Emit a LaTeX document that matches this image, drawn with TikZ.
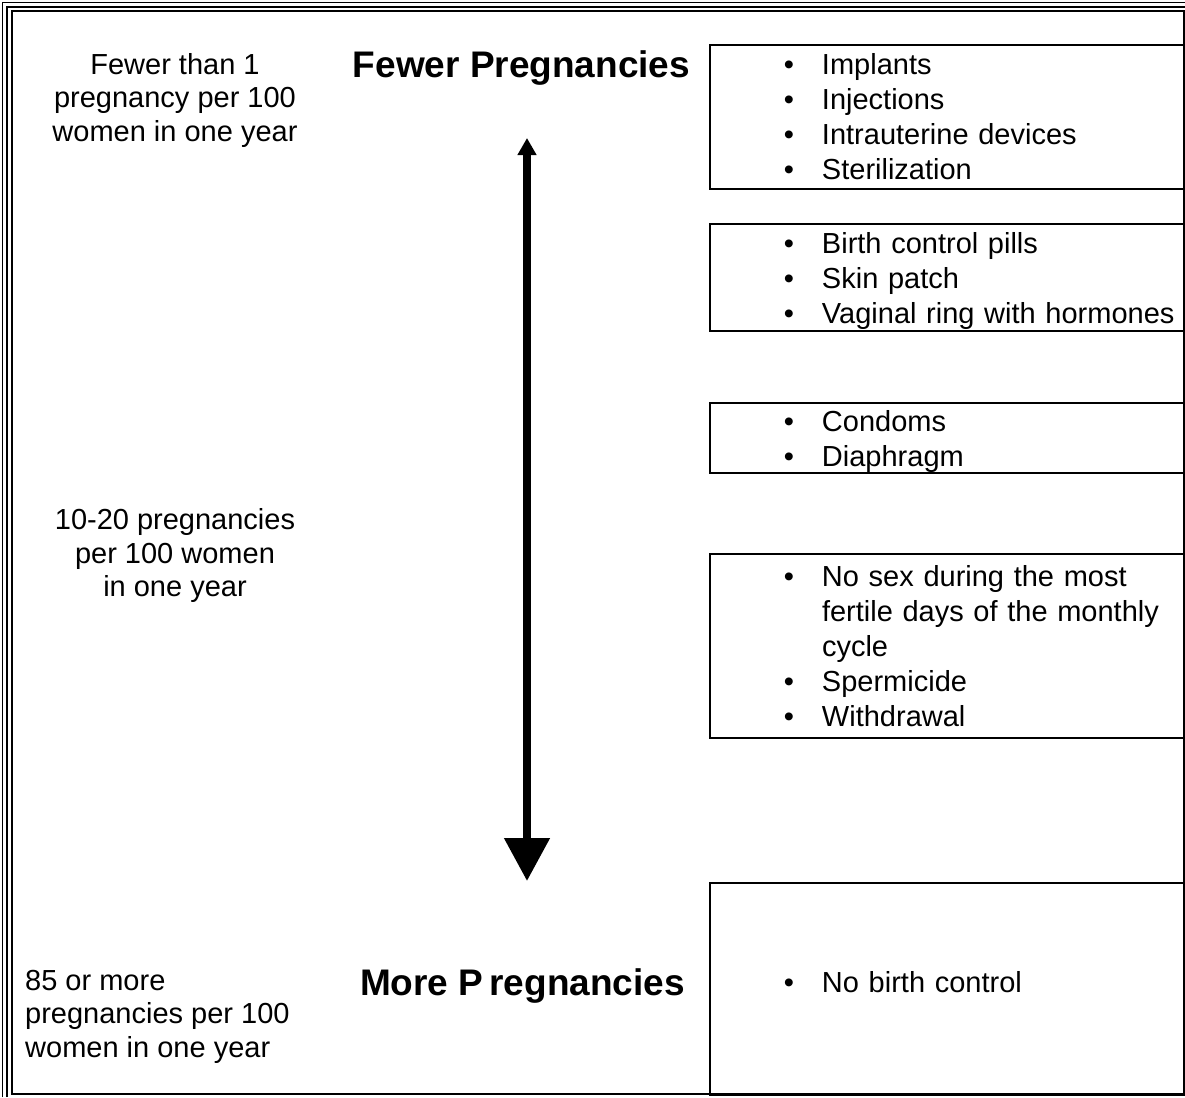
\documentclass[tikz,border=0pt]{standalone}
\usepackage{fontspec}
\setmainfont{Liberation Sans}
\usetikzlibrary{arrows.meta}
\newcommand{\bitem}[1]{\hspace*{72pt}\makebox[14pt]{\textbullet}\hspace*{26pt}#1}
\newcommand{\bcont}[1]{\hspace*{112pt}#1}
\tikzset{
  listbox/.style={draw,line width=2pt,anchor=north west,inner sep=0pt,
    minimum width=475pt,text width=475pt,align=left,
    font=\fontsize{29}{35}\selectfont},
  ratetext/.style={inner sep=0pt,align=center,font=\fontsize{29}{33.5}\selectfont},
  headtext/.style={inner sep=0pt,anchor=base,font=\fontsize{37}{44}\selectfont\bfseries}
}
\begin{document}
\begin{tikzpicture}[x=1pt,y=-1pt]
%\draw[gray,very thin] (0,0) grid[step=100] (1185,1097);
\useasboundingbox (0,0) rectangle (1185,1097);
% page border
\draw[line width=1.2pt] (2.5,1097) -- (2.5,2.5) -- (1185,2.5);
\draw[line width=1.2pt] (7,1097) -- (7,7) -- (1185,7);
\draw[line width=1.5pt] (12,11) rectangle (1184,1094);
% rates on the left
\node[ratetext] (lowrate) at (175,100.5) {Fewer than 1\\pregnancy per 100\\women in one year};
\node[ratetext] (midrate) at (175,555.5) {10-20 pregnancies\\per 100 women\\in one year};
\node[ratetext,align=left,anchor=west] (highrate) at (25,1016.5) {85 or more\\pregnancies per 100\\women in one year};
% headings and arrow
\node[headtext] (fewer) at (521.5,78) {Fewer Pregnancies};
\node[headtext] (more) at (522.5,995) {More P\kern6pt regnancies};
\coordinate (fewtip) at (527,138);
\coordinate (moretip) at (527,881);
\draw[line width=8pt,{Triangle[width=18pt,length=17pt]}-{Triangle[width=44pt,length=43pt]}] (fewtip) -- (moretip);
% methods
\node[listbox,minimum height=144pt] (box1) at (709,44)
  {\bitem{Implants}\\\bitem{Injections}\\\bitem{Intrauterine devices}\\\bitem{Sterilization}};
\node[listbox,minimum height=107pt,text depth=70pt] (box2) at (709,223)
  {\bitem{Birth control pills}\\\bitem{Skin patch}\\\bitem{Vaginal ring with hormones}};
\node[listbox,minimum height=70pt,text depth=35pt] (box3) at (709,402)
  {\bitem{Condoms}\\\bitem{Diaphragm}};
\node[listbox,minimum height=184pt] (box4) at (709,553)
  {\bitem{No sex during the most}\\\bcont{fertile days of the monthly}\\\bcont{cycle}\\\bitem{Spermicide}\\\bitem{Withdrawal}};
\node[listbox,minimum height=212pt,text depth=15pt] (box5) at (709,882)
  {\bitem{No birth control}};
\end{tikzpicture}
\end{document}
